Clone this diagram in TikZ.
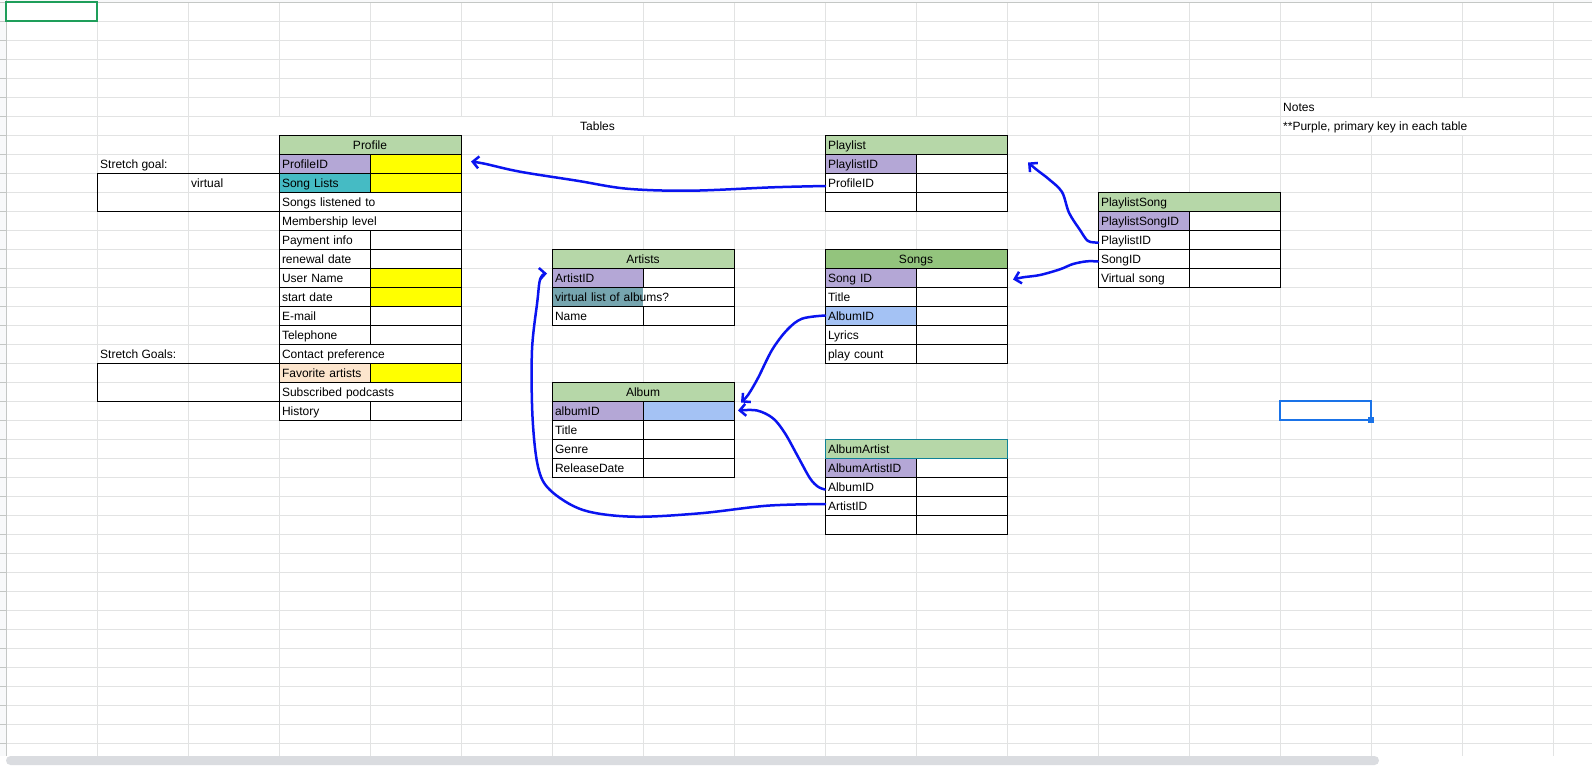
\documentclass[tikz,border=0pt]{standalone}
\usepackage{fontspec}
\setmainfont{Liberation Sans}
\usetikzlibrary{arrows.meta}
\definecolor{gridgray}{RGB}{226,227,227}
\definecolor{edgegray}{RGB}{196,199,197}
\definecolor{headbg}{RGB}{248,249,250}
\definecolor{hdrgreen}{RGB}{182,215,168}
\definecolor{songgreen}{RGB}{147,196,125}
\definecolor{keypurple}{RGB}{180,167,214}
\definecolor{hiyellow}{RGB}{255,255,0}
\definecolor{listteal}{RGB}{69,187,196}
\definecolor{favpeach}{RGB}{252,229,205}
\definecolor{vlgray}{RGB}{118,165,175}
\definecolor{fkblue}{RGB}{164,194,244}
\definecolor{hdteal}{RGB}{16,130,150}
\definecolor{penblue}{RGB}{10,20,240}
\definecolor{selgreen}{RGB}{30,158,90}
\definecolor{selblue}{RGB}{26,115,232}
\definecolor{scrollgray}{RGB}{218,220,224}
\newcommand\cellfont{\fontsize{12pt}{14pt}\selectfont}

\begin{document}
\begin{tikzpicture}[
    x=1pt, y=-1pt,
    cell/.style={
        rectangle, draw=black, fill=white, line width=1pt,
        minimum width=91pt, minimum height=19pt,
        inner xsep=3pt, inner ysep=0pt, outer sep=0pt,
        text width=85pt, text height=12pt, text depth=1.6pt,
        align=left, anchor=north west, font=\cellfont
    },
    wide/.style={cell, minimum width=182pt, text width=176pt},
    head/.style={wide, fill=hdrgreen},
    headc/.style={head, align=center},
    key/.style={cell, fill=keypurple},
    txt/.style={anchor=base west, inner sep=0pt, font=\cellfont},
    goalbox/.style={
        rectangle, draw=black, line width=1pt,
        minimum width=182pt, minimum height=38pt,
        inner sep=0pt, outer sep=0pt, anchor=north west
    },
    grid/.style={gridgray, line width=1pt},
    link/.style={-{Straight Barb[length=6pt,width=12pt]}, penblue,
        line width=2.5pt, line cap=round, line join=round},
]
\useasboundingbox (0,0) rectangle (1592,766);
\fill[white] (0,0) rectangle (1592,766);

% Sheet grid
\foreach \c in {0,...,17}
    \draw[grid] ({6+91*\c},2) -- ({6+91*\c},756);
\foreach \r in {1,...,39}
    \draw[grid] (6,{2+19*\r}) -- (1592,{2+19*\r});
\fill[white] (188.5,116.5) rectangle (1006.5,134.5);
\fill[white] (1280.5,97.5) rectangle (1552.5,115.5);
\fill[white] (1280.5,116.5) rectangle (1552.5,134.5);

% Row header strip
\fill[headbg] (0,0) rectangle (6,756);
\fill[headbg] (0,0) rectangle (1592,2);
\foreach \r in {0,...,39}
    \draw[edgegray, line width=1pt] (0,{2+19*\r}) -- (6,{2+19*\r});
\draw[edgegray, line width=1pt] (6,0) -- (6,756);
\draw[edgegray, line width=1pt] (0,2) -- (1592,2);

% Labels
\node[txt, anchor=base] (tblLbl) at (597.5,130.7) {Tables};
\node[txt] (notesLbl) at (1283,111.7) {Notes};
\node[txt] (notesKey) at (1283,130.7) {**Purple, primary key in each table};
\node[txt] (goalTop) at (100,168.7) {Stretch goal:};
\node[txt] (virtLbl) at (191,187.7) {virtual};
\node[txt] (goalBot) at (100,358.7) {Stretch Goals:};
\node[goalbox] (goalA) at (97,173) {};
\node[goalbox] (goalB) at (97,363) {};

% Profile
\node[headc] (prHead) at (279,135) {Profile};
\node[key] (prD9) at (279,154) {ProfileID};
\node[cell, fill=hiyellow] (prE9) at (370,154) {};
\node[cell, fill=listteal] (prD10) at (279,173) {Song Lists};
\node[cell, fill=hiyellow] (prE10) at (370,173) {};
\node[wide] (prD11) at (279,192) {Songs listened to};
\node[wide] (prD12) at (279,211) {Membership level};
\node[cell] (prD13) at (279,230) {Payment info};
\node[cell] (prE13) at (370,230) {};
\node[cell] (prD14) at (279,249) {renewal date};
\node[cell] (prE14) at (370,249) {};
\node[cell] (prD15) at (279,268) {User Name};
\node[cell, fill=hiyellow] (prE15) at (370,268) {};
\node[cell] (prD16) at (279,287) {start date};
\node[cell, fill=hiyellow] (prE16) at (370,287) {};
\node[cell] (prD17) at (279,306) {E-mail};
\node[cell] (prE17) at (370,306) {};
\node[cell] (prD18) at (279,325) {Telephone};
\node[cell] (prE18) at (370,325) {};
\node[wide] (prD19) at (279,344) {Contact preference};
\node[cell, fill=favpeach] (prD20) at (279,363) {Favorite artists};
\node[cell, fill=hiyellow] (prE20) at (370,363) {};
\node[wide] (prD21) at (279,382) {Subscribed podcasts};
\node[cell] (prD22) at (279,401) {History};
\node[cell] (prE22) at (370,401) {};

% Artists
\node[headc] (arHead) at (552,249) {Artists};
\node[key] (arG15) at (552,268) {ArtistID};
\node[cell] (arH15) at (643,268) {};
\fill[white] (552,287) rectangle (734,306);
\fill[vlgray] (552,287) rectangle (643,306);
\node[wide, fill=none] (arG16) at (552,287) {virtual list of albums?};
\node[cell] (arG17) at (552,306) {Name};
\node[cell] (arH17) at (643,306) {};

% Album
\node[headc] (alHead) at (552,382) {Album};
\node[key] (alG22) at (552,401) {albumID};
\node[cell, fill=fkblue] (alH22) at (643,401) {};
\node[cell] (alG23) at (552,420) {Title};
\node[cell] (alH23) at (643,420) {};
\node[cell] (alG24) at (552,439) {Genre};
\node[cell] (alH24) at (643,439) {};
\node[cell] (alG25) at (552,458) {ReleaseDate};
\node[cell] (alH25) at (643,458) {};

% Playlist
\node[head] (plHead) at (825,135) {Playlist};
\node[key] (plJ9) at (825,154) {PlaylistID};
\node[cell] (plK9) at (916,154) {};
\node[cell] (plJ10) at (825,173) {ProfileID};
\node[cell] (plK10) at (916,173) {};
\node[cell] (plJ11) at (825,192) {};
\node[cell] (plK11) at (916,192) {};

% Songs
\node[headc, fill=songgreen] (sgHead) at (825,249) {Songs};
\node[key] (sgJ15) at (825,268) {Song ID};
\node[cell] (sgK15) at (916,268) {};
\node[cell] (sgJ16) at (825,287) {Title};
\node[cell] (sgK16) at (916,287) {};
\node[cell, fill=fkblue] (sgJ17) at (825,306) {AlbumID};
\node[cell] (sgK17) at (916,306) {};
\node[cell] (sgJ18) at (825,325) {Lyrics};
\node[cell] (sgK18) at (916,325) {};
\node[cell] (sgJ19) at (825,344) {play count};
\node[cell] (sgK19) at (916,344) {};

% AlbumArtist
\node[key] (aaJ25) at (825,458) {AlbumArtistID};
\node[cell] (aaK25) at (916,458) {};
\node[cell] (aaJ26) at (825,477) {AlbumID};
\node[cell] (aaK26) at (916,477) {};
\node[cell] (aaJ27) at (825,496) {ArtistID};
\node[cell] (aaK27) at (916,496) {};
\node[cell] (aaJ28) at (825,515) {};
\node[cell] (aaK28) at (916,515) {};
\node[head, draw=hdteal] (aaHead) at (825,439) {AlbumArtist};

% PlaylistSong
\node[head] (psHead) at (1098,192) {PlaylistSong};
\node[key] (psM12) at (1098,211) {PlaylistSongID};
\node[cell] (psN12) at (1189,211) {};
\node[cell] (psM13) at (1098,230) {PlaylistID};
\node[cell] (psN13) at (1189,230) {};
\node[cell] (psM14) at (1098,249) {SongID};
\node[cell] (psN14) at (1189,249) {};
\node[cell] (psM15) at (1098,268) {Virtual song};
\node[cell] (psN15) at (1189,268) {};

% Hand-drawn links
\draw[link] plot[smooth, tension=0.55] coordinates {([yshift=-3.5pt]plJ10.west)
    (773,187.3) (690,190.7) (627,188.7) (577,180.7) (520,171.7) (485,163.8)
    ([xshift=10pt,yshift=2pt]prE9.east)};
\draw[link] plot[smooth, tension=0.55] coordinates {([yshift=-3pt]psM13.west)
    (1088,241) (1080,230) (1069,212.7) (1062,192) (1049,179.3) (1037,170)
    ([xshift=21pt,yshift=1pt]plK9.east)};
\draw[link] plot[smooth, tension=0.55] coordinates {([yshift=-3pt]psM14.west)
    (1087,261.3) (1073,264) (1060,269.3) (1040,275) (1023,277.3)
    ([xshift=6pt,yshift=-2pt]sgK15.east)};
\draw[link] plot[smooth, tension=0.55] coordinates {(sgJ17.west)
    (802,318.7) (787,330) (772,350) (758,378) (748,395)
    ([xshift=7pt,yshift=8pt]alH22.east)};
\draw[link] plot[smooth, tension=0.55] coordinates {([yshift=-3pt]aaJ26.west)
    (818,486.7) (810,478.3) (798,456.7) (785,433.3) (773,418.3) (757,410.5)
    ([xshift=4pt]alH22.east)};
\draw[link] plot[smooth, tension=0.55] coordinates {([yshift=1.5pt]aaJ27.west)
    (767,505.7) (700,513.3) (633,516.7) (583,510) (550,490) (538,466.7)
    (532.5,416.7) (532,350) (537.5,300) (539.5,282) (542.5,275)
    ([xshift=-5pt,yshift=4pt]arG15.west)};

% Selected cells and scroll bar
\draw[selgreen, line width=1.5pt] (6,2) rectangle (97,21);
\draw[selblue, line width=2pt] (1280,401) rectangle (1371,420);
\fill[selblue] (1368,417) rectangle (1374,423);
\fill[scrollgray, rounded corners=4.5pt] (6,756) rectangle (1379,765);
\end{tikzpicture}
\end{document}
